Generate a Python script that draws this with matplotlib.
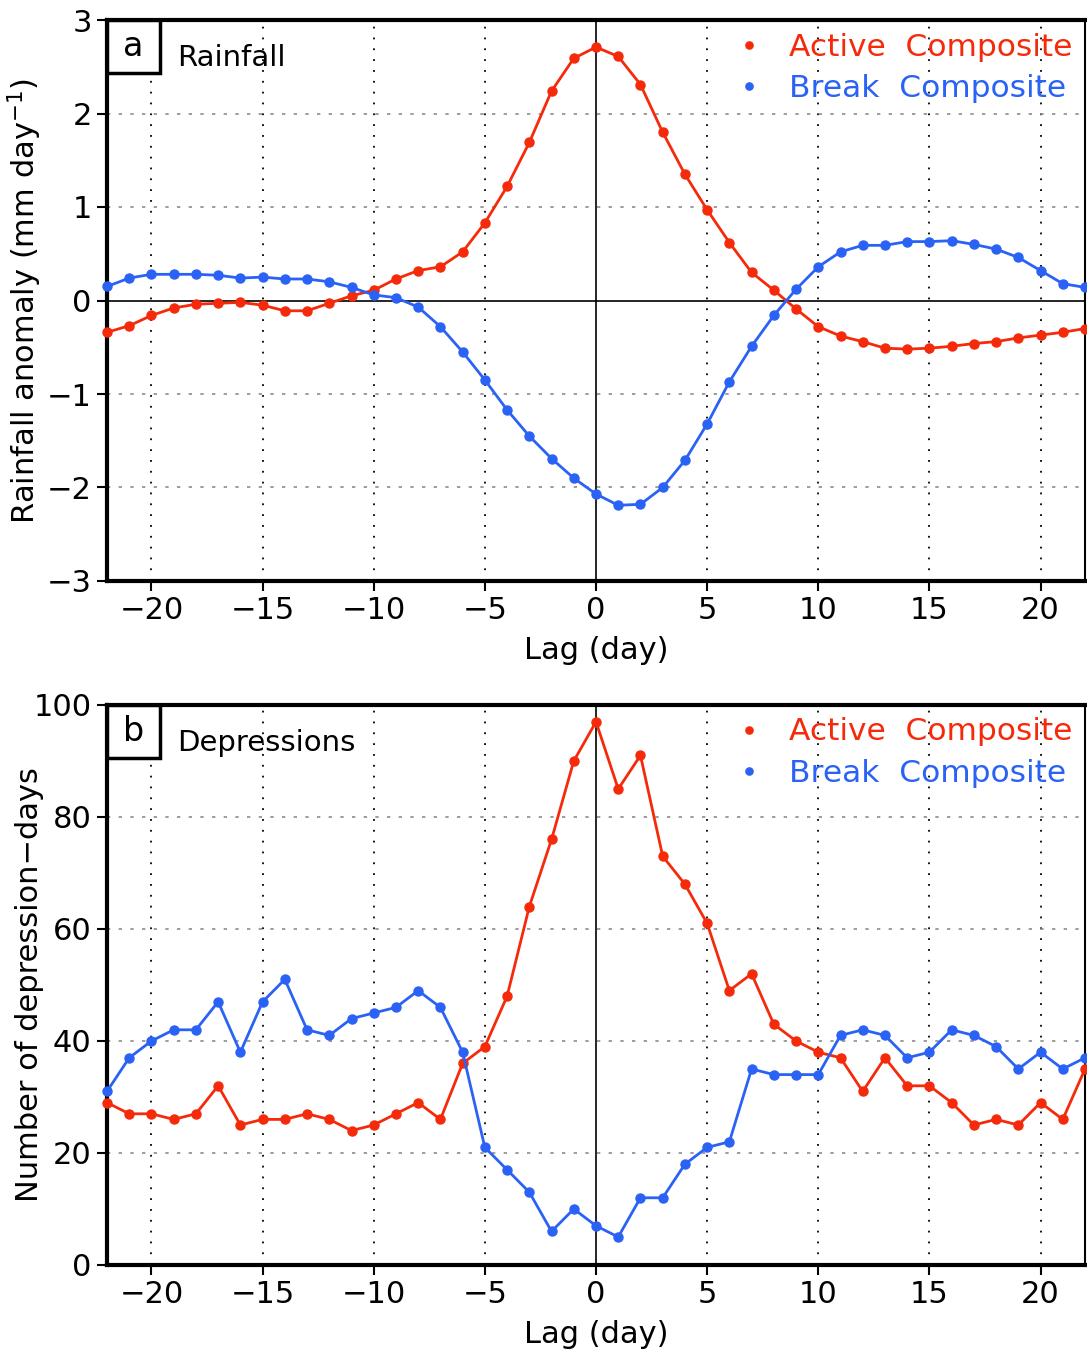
import matplotlib.pyplot as plt
import numpy as np
from matplotlib.patches import Rectangle

lag = np.arange(-22, 23)

rain_active = [-0.34, -0.27, -0.16, -0.08, -0.04, -0.03, -0.02, -0.05, -0.11, -0.11,
               -0.03, 0.05, 0.11, 0.23, 0.32, 0.36, 0.52, 0.83, 1.22, 1.69,
               2.24, 2.59, 2.71, 2.61, 2.31, 1.80, 1.35, 0.97, 0.62, 0.30,
               0.11, -0.09, -0.28, -0.38, -0.44, -0.51, -0.52, -0.51, -0.49, -0.46,
               -0.44, -0.40, -0.37, -0.34, -0.30]
rain_break = [0.15, 0.24, 0.28, 0.28, 0.28, 0.27, 0.24, 0.25, 0.23, 0.23,
              0.20, 0.14, 0.06, 0.03, -0.07, -0.28, -0.55, -0.85, -1.17, -1.45,
              -1.69, -1.90, -2.07, -2.19, -2.18, -2.00, -1.71, -1.32, -0.87, -0.49,
              -0.16, 0.12, 0.36, 0.52, 0.59, 0.59, 0.63, 0.63, 0.64, 0.60,
              0.55, 0.46, 0.32, 0.18, 0.14]

dep_active = [29, 27, 27, 26, 27, 32, 25, 26, 26, 27,
              26, 24, 25, 27, 29, 26, 36, 39, 48, 64,
              76, 90, 97, 85, 91, 73, 68, 61, 49, 52,
              43, 40, 38, 37, 31, 37, 32, 32, 29, 25,
              26, 25, 29, 26, 35]
dep_break = [31, 37, 40, 42, 42, 47, 38, 47, 51, 42,
             41, 44, 45, 46, 49, 46, 38, 21, 17, 13,
             6, 10, 7, 5, 12, 12, 18, 21, 22, 35,
             34, 34, 34, 41, 42, 41, 37, 38, 42, 41,
             39, 35, 38, 35, 37]

RED = '#f52a0a'
BLUE = '#2a62f5'
FS = 22

plt.rcParams['font.family'] = 'DejaVu Sans'

fig = plt.figure(figsize=(10.87, 13.53), dpi=100)
W, H = 1087, 1353
ax1 = fig.add_axes([107 / W, 1 - 581 / H, 978 / W, 561 / H])
ax2 = fig.add_axes([107 / W, 1 - 1265 / H, 978 / W, 560 / H])


def style(ax, ylim, yticks, hgrid, letter, title, ylabel):
    ax.set_xlim(-22, 22)
    ax.set_ylim(*ylim)
    ax.set_yticks(yticks)
    ax.set_xticks(np.arange(-20, 21, 5))
    ax.set_xticklabels(['\u221220', '\u221215', '\u221210', '\u22125', '0', '5', '10', '15', '20'])
    ax.set_yticklabels([str(v).replace('-', '\u2212') for v in yticks])
    ax.tick_params(axis='both', labelsize=FS, direction='out', length=7, width=1.5, pad=4)
    for v in np.arange(-20, 21, 5):
        if v != 0:
            ax.axvline(v, color='k', ls=(0, (1, 5)), lw=1.3, zorder=0)
    for v in hgrid:
        ax.axhline(v, color='0.55', ls=(0, (2, 5)), lw=1.2, zorder=0)
    ax.axvline(0, color='k', lw=1.2, zorder=1)
    for s in ax.spines.values():
        s.set_linewidth(1.5)
    for side in ('left', 'top', 'bottom'):
        ax.spines[side].set_linewidth(3)
    ax.set_xlabel('Lag (day)', fontsize=FS, labelpad=8)
    ax.set_ylabel(ylabel, fontsize=FS)
    ax.yaxis.set_label_coords(-63 / 978, 0.5)
    # boxed panel letter in the upper-left corner
    bw, bh = 53 / 978, 53 / 561
    ax.add_patch(Rectangle((0, 1 - bh), bw, bh, transform=ax.transAxes, fc='white',
                           ec='k', lw=2.5, zorder=5, clip_on=False))
    ax.text(bw / 2, 1 - bh / 2, letter, transform=ax.transAxes, fontsize=FS + 2,
            ha='center', va='center', zorder=6)
    ax.text(0.072, 0.932, title, transform=ax.transAxes, fontsize=FS - 1,
            ha='left', va='center')


style(ax1, (-3, 3), [-3, -2, -1, 0, 1, 2, 3], [-2, -1, 1, 2], 'a', 'Rainfall',
      'Rainfall anomaly (mm day$^{-1}$)')
ax1.axhline(0, color='k', lw=1.2, zorder=1)
ax1.plot(lag, rain_active, '-o', color=RED, lw=2, ms=6.5, label='Active  Composite', clip_on=False, zorder=3)
ax1.plot(lag, rain_break, '-o', color=BLUE, lw=2, ms=6.5, label='Break  Composite', clip_on=False, zorder=3)

style(ax2, (0, 100), [0, 20, 40, 60, 80, 100], [20, 40, 60, 80], 'b', 'Depressions',
      'Number of depression\u2212days')
ax2.plot(lag, dep_active, '-o', color=RED, lw=2, ms=6.5, label='Active  Composite', clip_on=False, zorder=3)
ax2.plot(lag, dep_break, '-o', color=BLUE, lw=2, ms=6.5, label='Break  Composite', clip_on=False, zorder=3)

for ax in (ax1, ax2):
    leg = ax.legend(loc='upper right', fontsize=FS + 0.5, frameon=False, handlelength=0.6,
                    handletextpad=1.0, borderaxespad=0.0, labelspacing=0.4,
                    markerscale=0.8)
    for line in leg.get_lines():
        line.set_linestyle('none')
    for t, c in zip(leg.get_texts(), (RED, BLUE)):
        t.set_color(c)

fig.savefig('out.png', dpi=100)
